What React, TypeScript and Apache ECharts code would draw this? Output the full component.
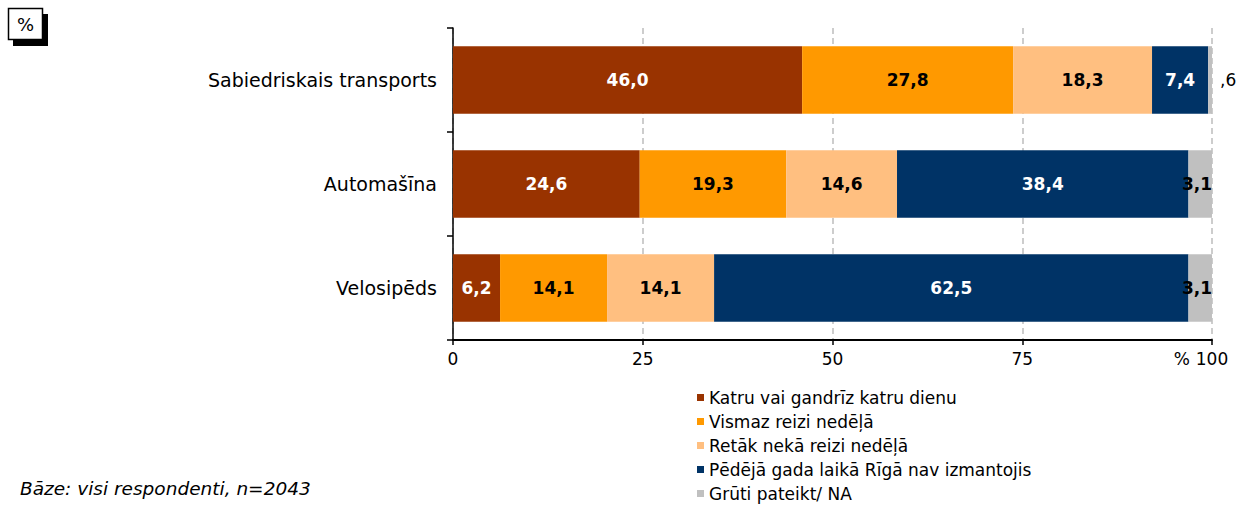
import React, { useEffect, useRef } from "react";
import * as echarts from "echarts";

const categories = ["Sabiedriskais transports", "Automašīna", "Velosipēds"];
const seriesNames = [
  "Katru vai gandrīz katru dienu",
  "Vismaz reizi nedēļā",
  "Retāk nekā reizi nedēļā",
  "Pēdējā gada laikā Rīgā nav izmantojis",
  "Grūti pateikt/ NA",
];
const daily = [46.0, 24.6, 6.2];
const weekly = [27.8, 19.3, 14.1];
const rarer = [18.3, 14.6, 14.1];
const notUsed = [7.4, 38.4, 62.5];
const hardToSay = [0.6, 3.1, 3.1];
const xTicks = [0, 25, 50, 75, 100];

const colors = ["#993300", "#FF9900", "#FFBF80", "#003366", "#C0C0C0"];
const labelColors = ["#ffffff", "#000000", "#000000", "#ffffff", "#000000"];
const FONT = "DejaVu Sans";

const fmt = (v: number) => {
  const s = v.toFixed(1).replace(".", ",");
  return s.startsWith("0,") ? s.slice(1) : s;
};

export default function App() {
  const ref = useRef<HTMLDivElement>(null);
  useEffect(() => {
    if (!ref.current) return;
    const chart = echarts.init(ref.current, null, { renderer: "svg" });
    const allData = [daily, weekly, rarer, notUsed, hardToSay];
    const series = allData.map((arr, i) => ({
      name: seriesNames[i],
      type: "bar",
      stack: "total",
      barWidth: "65%",
      itemStyle: { color: colors[i] },
      label: {
        show: true,
        position: i === 4 ? "insideRight" : "inside",
        distance: 0,
        color: labelColors[i],
        fontFamily: FONT,
        fontSize: 17,
        fontWeight: "bold",
        formatter: (p: any) => fmt(p.value),
      },
      data: arr.map((v) =>
        i === 4 && v < 1
          ? {
              value: v,
              label: { position: "right", distance: 8, color: "#000", fontWeight: "normal" },
            }
          : v
      ),
    }));
    chart.setOption({
      animation: false,
      grid: { left: 453, right: 30, top: 28, bottom: 167, containLabel: false },
      legend: {
        orient: "vertical",
        left: 697,
        top: 389,
        height: 130,
        itemWidth: 7,
        itemHeight: 7,
        itemGap: 7,
        icon: "rect",
        padding: 0,
        textStyle: { fontFamily: FONT, fontSize: 17, color: "#000" },
        data: seriesNames,
      },
      xAxis: {
        type: "value",
        min: 0,
        max: 100,
        interval: 25,
        axisLine: { show: true, lineStyle: { color: "#000", width: 2 } },
        axisTick: { show: true, length: 5, lineStyle: { color: "#000", width: 1.5 } },
        axisLabel: {
          margin: 10,
          fontFamily: FONT,
          fontSize: 17,
          color: "#000",
          formatter: (v: number) => (xTicks.includes(v) ? String(v) : ""),
        },
        splitLine: {
          show: true,
          lineStyle: { color: "#bdbdbd", type: [6, 4], width: 1.5 },
        },
      },
      yAxis: {
        type: "category",
        inverse: true,
        data: categories,
        axisLine: { show: true, lineStyle: { color: "#000", width: 1.5 } },
        axisTick: { show: true, length: 6, lineStyle: { color: "#000", width: 1.5 } },
        axisLabel: { margin: 16, fontFamily: FONT, fontSize: 19, color: "#000" },
        splitLine: { show: false },
      },
      graphic: [
        { type: "rect", shape: { x: 13, y: 14, width: 35, height: 32 }, style: { fill: "#000" } },
        {
          type: "rect",
          shape: { x: 8.5, y: 8.5, width: 34, height: 31 },
          style: { fill: "#fff", stroke: "#000", lineWidth: 1.5 },
        },
        {
          type: "text",
          x: 25.5,
          y: 24,
          style: { text: "%", fontFamily: FONT, fontSize: 18, fill: "#000", align: "center", verticalAlign: "middle" },
        },
        {
          type: "text",
          x: 1190,
          y: 359,
          style: { text: "%", fontFamily: FONT, fontSize: 17, fill: "#000", align: "right", verticalAlign: "middle" },
        },
        {
          type: "text",
          x: 20,
          y: 488,
          style: {
            text: "Bāze: visi respondenti, n=2043",
            fontFamily: FONT,
            fontSize: 18.5,
            fontStyle: "italic",
            fill: "#000",
            verticalAlign: "middle",
          },
        },
      ],
      series,
    });
    return () => chart.dispose();
  }, []);
  return <div ref={ref} style={{ width: 1242, height: 507, position: "absolute", left: 0, top: 0 }} />;
}
